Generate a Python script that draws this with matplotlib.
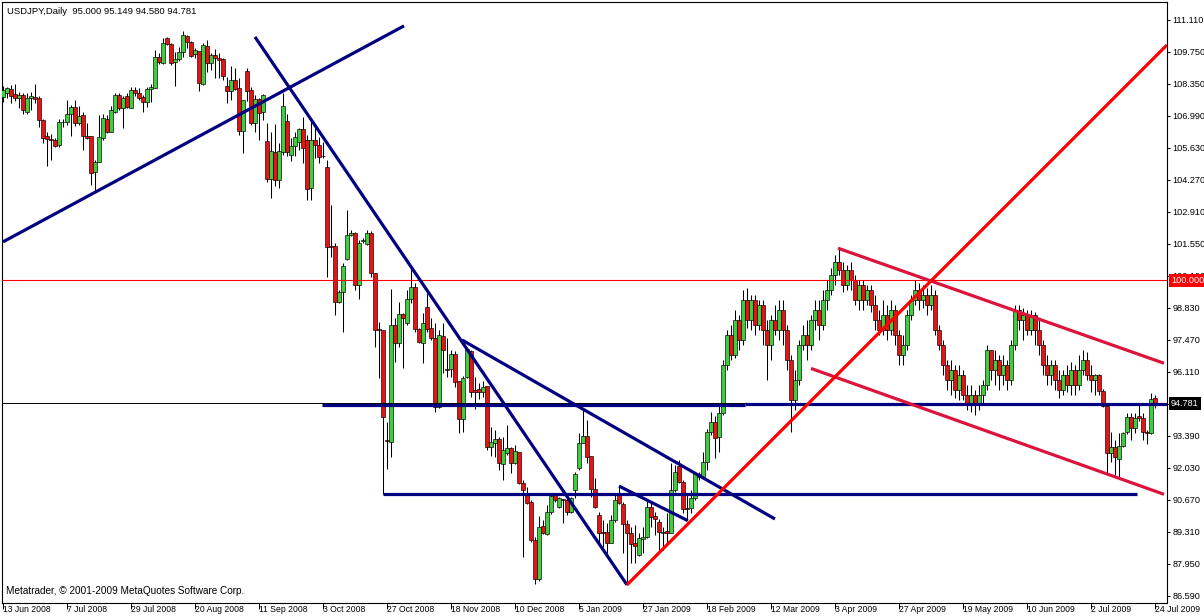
import matplotlib
matplotlib.use('Agg')
import matplotlib.pyplot as plt
import numpy as np

plt.rcParams['font.family'] = ['Liberation Sans', 'DejaVu Sans']

# daily USDJPY candles, bar 0 = 13 Jun 2008
opens = [
    107.81, 107.96, 108.13, 107.92, 107.77, 107.89, 107.15, 107.77, 107.80, 107.74,
    106.82, 106.14, 106.01, 105.97, 105.76, 106.72, 106.72, 107.06, 107.38, 106.68,
    107.04, 106.14, 106.14, 104.60, 105.02, 106.04, 106.85, 106.33, 107.18, 107.89,
    107.32, 107.82, 107.35, 108.08, 107.98, 107.81, 107.57, 108.14, 108.20, 109.49,
    109.23, 110.29, 110.04, 109.27, 109.40, 109.70, 110.39, 110.12, 109.61, 109.76,
    108.34, 109.97, 109.23, 109.59, 109.47, 109.42, 108.27, 108.06, 108.52, 108.20,
    106.36, 108.91, 108.10, 106.71, 107.72, 107.15, 105.93, 104.32, 105.44, 104.25,
    105.48, 106.78, 105.34, 105.73, 105.90, 106.42, 105.97, 103.93, 105.97, 105.76,
    105.27, 104.82, 101.47, 101.47, 99.09, 99.51, 100.91, 101.93, 102.02, 99.81,
    101.68, 101.55, 102.02, 100.32, 97.94, 97.90, 93.20, 93.13, 98.11, 97.34,
    98.58, 98.19, 99.21, 99.72, 97.94, 97.34, 98.87, 97.98, 97.55, 94.62,
    97.64, 96.24, 96.24, 96.88, 95.73, 94.11, 95.90, 97.00, 95.35, 95.39,
    95.26, 95.51, 92.92, 93.07, 93.26, 92.20, 92.67, 92.88, 92.24, 92.71,
    91.39, 90.92, 90.58, 88.97, 87.31, 89.57, 89.22, 90.16, 90.88, 90.37,
    90.70, 90.67, 90.16, 91.09, 92.03, 93.09, 93.39, 92.54, 91.12, 90.03,
    89.32, 89.32, 88.86, 89.82, 90.95, 90.50, 89.65, 89.28, 88.86, 88.33,
    89.00, 89.11, 90.39, 90.00, 89.75, 89.25, 89.36, 89.28, 91.09, 92.12,
    91.45, 90.32, 90.32, 90.74, 91.76, 91.66, 92.30, 93.57, 94.00, 93.36,
    94.37, 96.41, 97.68, 96.83, 98.32, 97.47, 99.17, 98.32, 99.17, 98.11,
    98.96, 97.90, 97.26, 98.32, 97.90, 98.75, 97.90, 96.62, 94.92, 95.77,
    97.26, 97.68, 97.26, 98.32, 98.75, 98.11, 99.17, 99.60, 100.23, 100.79,
    100.45, 99.81, 100.45, 100.02, 99.17, 99.81, 99.17, 99.60, 98.96, 98.32,
    97.90, 98.53, 97.90, 98.75, 97.68, 96.83, 97.26, 98.53, 99.17, 99.60,
    99.17, 99.38, 98.96, 99.38, 97.90, 97.26, 96.41, 95.77, 96.20, 95.35,
    95.98, 95.13, 94.71, 95.13, 94.71, 95.13, 95.56, 97.05, 96.20, 96.62,
    95.98, 96.41, 95.77, 97.26, 98.75, 98.32, 98.53, 97.90, 98.53, 97.90,
    97.26, 96.41, 95.98, 96.41, 95.77, 95.35, 95.98, 95.56, 96.20, 95.56,
    96.20, 96.62, 95.98, 95.77, 95.98, 95.30, 94.66, 92.67, 92.92, 92.41,
    92.97, 93.56, 94.20, 93.73, 94.24, 94.16, 93.56, 93.52, 95.00,
]
highs = [
    108.28, 108.24, 108.31, 108.34, 108.03, 107.96, 107.96, 108.03, 108.34, 107.82,
    106.86, 106.33, 106.22, 106.04, 106.85, 106.85, 107.67, 107.46, 107.67, 107.43,
    107.18, 106.68, 106.14, 105.12, 107.04, 107.06, 107.04, 107.43, 107.96, 107.96,
    107.82, 107.96, 108.24, 108.24, 108.17, 107.89, 108.24, 108.34, 109.80, 109.66,
    110.29, 110.35, 110.08, 109.73, 109.94, 110.61, 110.44, 110.18, 109.87, 109.76,
    110.08, 110.22, 109.66, 109.84, 109.66, 109.44, 108.66, 109.12, 109.02, 108.59,
    107.67, 109.05, 108.24, 107.89, 107.74, 107.91, 106.68, 106.30, 106.64, 105.83,
    107.96, 107.06, 106.04, 106.30, 106.47, 106.93, 106.18, 106.82, 106.48, 106.10,
    105.90, 105.12, 103.21, 101.59, 99.60, 100.74, 102.99, 102.14, 102.06, 101.72,
    101.80, 102.14, 102.10, 100.32, 98.24, 97.90, 93.99, 99.64, 98.41, 99.09,
    98.62, 99.60, 100.57, 99.89, 97.98, 98.62, 99.47, 98.41, 98.19, 97.90,
    98.19, 97.55, 97.05, 97.00, 95.73, 95.94, 97.17, 97.05, 95.90, 95.64,
    95.73, 95.51, 93.77, 93.65, 93.35, 93.35, 93.86, 92.92, 93.01, 92.71,
    91.52, 91.22, 90.67, 89.10, 89.99, 89.82, 90.46, 90.88, 90.97, 90.80,
    90.71, 90.80, 90.80, 91.86, 93.52, 94.50, 94.07, 92.54, 91.60, 90.17,
    89.82, 89.68, 90.03, 90.95, 91.26, 90.60, 89.82, 89.54, 89.61, 89.25,
    89.54, 90.67, 90.55, 90.17, 89.85, 89.54, 90.10, 92.23, 92.16, 92.37,
    91.52, 90.98, 91.09, 91.87, 91.87, 92.72, 93.67, 94.42, 94.24, 94.78,
    96.62, 97.90, 98.11, 98.75, 98.53, 99.60, 99.68, 99.38, 99.38, 99.17,
    99.17, 98.32, 98.53, 98.96, 99.17, 99.17, 98.11, 96.83, 96.20, 97.47,
    98.11, 98.32, 98.53, 99.17, 99.17, 99.60, 100.02, 100.53, 101.08, 101.44,
    100.79, 100.66, 100.79, 100.23, 100.02, 100.02, 99.81, 99.81, 99.38, 98.75,
    99.17, 98.96, 99.17, 98.96, 97.90, 97.68, 98.75, 99.38, 100.02, 99.89,
    99.81, 99.68, 99.81, 99.60, 98.11, 97.47, 96.62, 96.62, 96.41, 96.41,
    96.20, 95.56, 95.56, 95.35, 95.56, 95.77, 97.26, 97.05, 97.05, 96.83,
    96.83, 96.62, 97.47, 98.96, 98.96, 98.83, 98.75, 98.75, 98.66, 98.40,
    97.47, 96.83, 96.62, 96.62, 96.20, 96.20, 96.41, 96.54, 96.41, 96.83,
    97.05, 96.96, 96.41, 96.03, 96.03, 95.40, 94.71, 93.56, 93.22, 93.52,
    93.56, 94.37, 94.37, 94.37, 94.71, 94.37, 93.65, 95.22, 95.149,
]
lows = [
    107.57, 107.77, 107.53, 107.63, 107.35, 107.07, 107.07, 107.25, 107.53, 106.54,
    105.83, 104.88, 105.12, 105.69, 105.69, 106.54, 106.61, 106.16, 106.58, 106.61,
    105.55, 106.00, 104.06, 103.78, 105.02, 105.97, 106.26, 106.33, 107.11, 107.25,
    106.47, 107.32, 107.32, 107.86, 107.67, 107.18, 107.39, 107.60, 108.17, 109.19,
    109.19, 110.01, 109.16, 108.28, 109.33, 109.51, 109.87, 109.50, 109.44, 108.06,
    108.31, 108.88, 108.95, 108.62, 108.59, 108.52, 107.53, 107.67, 108.10, 106.19,
    105.41, 107.63, 106.61, 106.33, 105.97, 106.82, 104.20, 103.49, 104.03, 103.92,
    105.34, 105.31, 105.08, 105.27, 105.55, 104.99, 103.42, 103.42, 105.20, 104.99,
    105.20, 100.15, 101.00, 98.53, 99.04, 97.81, 100.87, 101.89, 99.60, 99.21,
    101.59, 101.51, 100.15, 97.17, 95.86, 90.93, 92.00, 92.50, 96.53, 97.17,
    96.28, 98.11, 99.04, 97.81, 97.34, 96.49, 97.81, 97.47, 94.41, 94.58,
    96.07, 95.90, 95.90, 95.47, 93.52, 93.56, 95.86, 95.05, 94.54, 94.96,
    95.05, 92.80, 92.54, 92.50, 91.95, 91.52, 92.58, 91.82, 92.20, 91.35,
    88.25, 90.50, 88.89, 87.10, 87.23, 89.22, 89.18, 90.08, 90.58, 90.33,
    89.69, 90.03, 90.12, 90.75, 91.95, 93.09, 92.24, 90.80, 90.33, 88.83,
    88.68, 88.40, 88.83, 89.75, 90.50, 88.40, 87.06, 88.01, 87.98, 88.29,
    88.40, 89.04, 89.54, 89.18, 88.55, 88.55, 88.76, 89.25, 91.02, 91.38,
    90.10, 89.82, 90.10, 90.67, 91.52, 91.59, 91.95, 93.43, 92.44, 92.72,
    94.28, 96.20, 96.62, 96.70, 97.05, 97.26, 97.98, 97.90, 97.68, 97.90,
    97.26, 95.77, 96.62, 97.68, 97.47, 97.26, 96.20, 93.56, 94.50, 95.56,
    97.05, 96.62, 97.05, 97.90, 97.47, 97.90, 98.75, 99.38, 99.81, 100.23,
    99.51, 99.60, 99.60, 98.96, 98.75, 98.75, 98.96, 98.66, 97.90, 97.68,
    97.68, 97.47, 97.68, 97.26, 96.41, 96.41, 97.05, 98.32, 98.96, 98.75,
    98.83, 98.53, 98.75, 97.68, 97.05, 95.98, 95.35, 95.13, 95.00, 94.92,
    94.92, 94.50, 94.41, 94.28, 94.50, 94.71, 95.35, 95.77, 95.56, 95.35,
    95.56, 95.35, 95.56, 97.05, 97.90, 97.47, 97.68, 97.68, 97.26, 96.83,
    95.98, 95.56, 95.56, 95.35, 95.00, 95.13, 95.26, 95.13, 95.13, 95.35,
    95.98, 95.77, 95.26, 95.13, 95.13, 94.60, 91.73, 92.29, 91.73, 91.65,
    92.92, 93.47, 93.22, 93.52, 94.03, 93.22, 93.05, 93.47, 94.58,
]
closes = [
    108.10, 108.17, 107.86, 107.74, 107.89, 107.25, 107.77, 107.82, 107.72, 106.82,
    106.04, 106.00, 105.96, 105.73, 106.72, 106.75, 107.06, 107.38, 106.71, 106.99,
    106.16, 106.04, 104.56, 105.05, 106.09, 106.89, 106.33, 107.25, 107.89, 107.32,
    107.77, 107.39, 108.10, 107.96, 107.77, 107.60, 108.14, 108.24, 109.51, 109.27,
    110.08, 110.04, 109.23, 109.42, 109.70, 110.44, 110.12, 109.56, 109.80, 108.38,
    110.01, 109.23, 109.59, 109.44, 109.39, 108.71, 108.06, 108.52, 108.14, 106.36,
    107.67, 108.06, 106.71, 107.72, 107.11, 107.89, 104.32, 105.51, 104.25, 105.51,
    107.43, 105.45, 105.73, 106.09, 106.42, 105.63, 103.89, 105.97, 105.76, 105.25,
    105.30, 101.42, 101.42, 99.09, 99.51, 100.62, 101.93, 102.02, 99.81, 101.59,
    101.72, 102.02, 100.32, 97.90, 97.90, 94.20, 93.18, 98.11, 97.34, 98.58,
    98.41, 99.21, 99.72, 97.94, 97.39, 98.19, 97.94, 97.55, 94.62, 97.68,
    97.05, 96.20, 96.88, 95.69, 94.11, 95.86, 97.09, 95.26, 95.26, 95.26,
    95.47, 92.92, 93.14, 93.26, 92.24, 92.80, 92.88, 92.24, 92.75, 91.39,
    91.09, 90.54, 88.97, 87.31, 89.52, 89.27, 90.16, 90.84, 90.67, 90.75,
    90.67, 90.16, 90.75, 91.77, 93.09, 93.39, 92.50, 91.14, 90.36, 89.28,
    89.28, 88.86, 89.82, 90.67, 90.53, 89.65, 89.28, 88.80, 88.73, 89.04,
    89.11, 90.39, 89.96, 89.85, 89.32, 89.32, 89.25, 91.09, 91.87, 91.45,
    90.28, 90.28, 90.74, 91.80, 91.66, 92.30, 93.57, 94.00, 93.29, 94.35,
    96.41, 97.68, 96.83, 98.32, 97.47, 99.17, 98.32, 99.17, 98.11, 98.96,
    97.90, 97.26, 98.32, 97.90, 98.75, 97.90, 96.62, 94.92, 95.77, 97.26,
    97.68, 97.26, 98.32, 98.75, 98.11, 99.17, 99.60, 100.23, 100.79, 100.45,
    99.81, 100.45, 100.02, 99.17, 99.81, 99.17, 99.60, 98.96, 98.32, 97.90,
    98.53, 97.90, 98.75, 97.68, 96.83, 97.26, 98.53, 99.17, 99.60, 99.17,
    99.38, 98.96, 99.38, 97.90, 97.26, 96.41, 95.77, 96.20, 95.35, 95.98,
    95.13, 94.71, 95.13, 94.71, 95.13, 95.56, 97.05, 96.20, 96.62, 95.98,
    96.41, 95.77, 97.26, 98.75, 98.32, 98.53, 97.90, 98.53, 97.90, 97.26,
    96.41, 95.98, 96.41, 95.77, 95.35, 95.98, 95.56, 96.20, 95.56, 96.20,
    96.62, 95.98, 95.77, 95.98, 95.30, 94.66, 92.67, 92.92, 92.50, 92.97,
    93.52, 94.20, 93.73, 94.16, 94.16, 93.56, 93.52, 94.96, 94.781,
]

date_labels = ['13 Jun 2008', '7 Jul 2008', '29 Jul 2008', '20 Aug 2008', '11 Sep 2008',
               '3 Oct 2008', '27 Oct 2008', '18 Nov 2008', '10 Dec 2008', '5 Jan 2009',
               '27 Jan 2009', '18 Feb 2009', '12 Mar 2009', '3 Apr 2009', '27 Apr 2009',
               '19 May 2009', '10 Jun 2009', '2 Jul 2009', '24 Jul 2009']
date_bars = list(range(0, 289, 16))
price_ticks = [round(86.59 + 1.36 * k, 2) for k in range(19)]
price_labels = ['86.590', '87.950', '89.310', '90.670', '92.030', '93.390', '94.750',
                '96.110', '97.470', '98.830', '100.190', '101.550', '102.910', '104.270',
                '105.630', '106.990', '108.350', '109.750', '111.110']

# drawn objects: (bar, price) endpoints
blue_lines = [
    [(0, 101.64), (100.25, 110.82)],
    [(63, 110.35), (156, 87.06)],
    [(114.75, 97.47), (193, 89.86)],
    [(154, 91.26), (171.2, 89.79)],
    [(79.75, 94.71), (185.5, 94.71)],
    [(185.5, 94.75), (292, 94.75)],
    [(95, 90.92), (283.5, 90.92)],
]
red_line = [(156, 87.06), (291, 110.01)]
crimson_lines = [
    [(208.75, 101.37), (290.25, 96.48)],
    [(202, 96.26), (290.25, 90.91)],
]
level_100 = 100.0
bid = 94.781
header = 'USDJPY,Daily  95.000 95.149 94.580 94.781'
footer = 'Metatrader, \u00a9 2001-2009 MetaQuotes Software Corp.'

W, H = 1204, 616
fig = plt.figure(figsize=(W / 100, H / 100), dpi=100)
fig.patch.set_facecolor('white')
ax = fig.add_axes([2 / W, 13 / H, 1165 / W, 601 / H])
ax.set_xlim(-0.25, 291)
ax.set_ylim(86.29, 111.835)

o = np.array(opens); h = np.array(highs); l = np.array(lows); c = np.array(closes)
idx = np.arange(len(o))
up = c >= o
ax.vlines(idx, l, h, color='black', lw=0.75, zorder=2)
ax.bar(idx, np.abs(c - o), bottom=np.minimum(o, c), width=0.8,
       color=np.where(up, '#3ccf3c', '#ee1010'), edgecolor='black',
       linewidth=0.45, zorder=3)

ax.axhline(level_100, color='#ff0000', lw=0.8, zorder=4)
ax.axhline(bid, color='black', lw=0.7, zorder=4)
for seg in blue_lines:
    xs, ys = zip(*seg)
    ax.plot(xs, ys, color='#000080', lw=2.3, solid_capstyle='butt', zorder=5)
for seg in crimson_lines:
    xs, ys = zip(*seg)
    ax.plot(xs, ys, color='#dc143c', lw=2.3, solid_capstyle='butt', zorder=5)
xs, ys = zip(*red_line)
ax.plot(xs, ys, color='#ff0000', lw=2.3, solid_capstyle='butt', zorder=5)

# axes
for s in ax.spines.values():
    s.set_linewidth(0.8)
    s.set_color('black')
ax.yaxis.tick_right()
ax.set_yticks(price_ticks)
ax.set_yticklabels(price_labels)
ax.tick_params(axis='y', direction='out', length=1.8, width=0.7, pad=2.2,
               labelsize=6.6, colors='black')
ax.set_xticks(date_bars)
ax.set_xticklabels(date_labels, ha='left')
ax.tick_params(axis='x', direction='out', length=4.6, width=0.7, pad=-2.8,
               labelsize=6.2, colors='black')

ytr = ax.get_yaxis_transform()
ax.text(1.0035, level_100, '100.000', transform=ytr, ha='left', va='center',
        fontsize=6.6, color='white', zorder=10, clip_on=False,
        bbox=dict(boxstyle='square,pad=0.22', fc='#ff0000', ec='none'))
ax.text(1.0035, bid, '94.781', transform=ytr, ha='left', va='center',
        fontsize=6.6, color='white', zorder=10, clip_on=False,
        bbox=dict(boxstyle='square,pad=0.22', fc='black', ec='none'))

fig.text(7 / W, 1 - 11 / H, header, ha='left', va='center', fontsize=6.8)
fig.text(6 / W, 1 - 591 / H, footer, ha='left', va='center', fontsize=7.2)

fig.savefig('out.png', dpi=100, facecolor='white')
